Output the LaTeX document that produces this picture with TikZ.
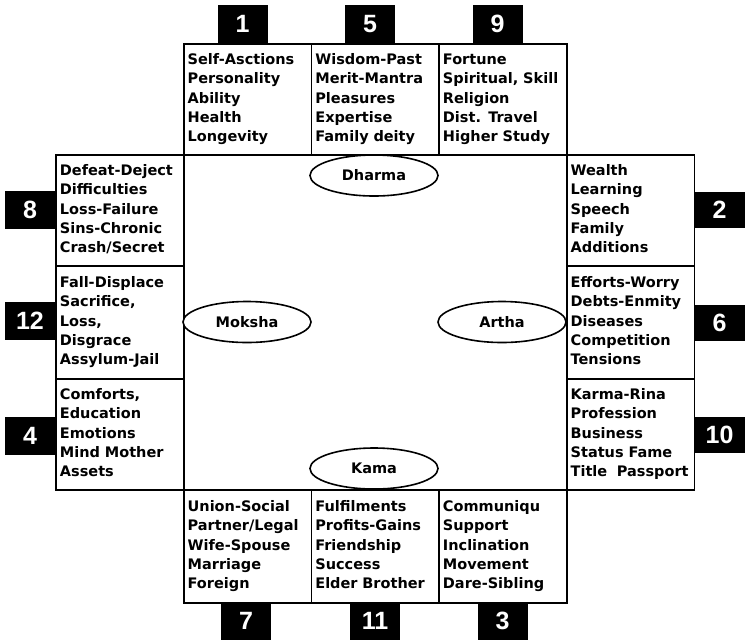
\documentclass[tikz,border=0pt]{standalone}
\usepackage{fontspec}
\setmainfont{DejaVu Sans}
\newfontfamily\digitfont{Liberation Sans}
\usetikzlibrary{shapes.geometric}
\begin{document}
\begin{tikzpicture}[x=1pt,y=-1pt,
  house/.style={draw, line width=1.6pt, anchor=north west, minimum width=127.7pt,
    minimum height=#1, inner xsep=3.2pt, inner ysep=0pt, text width=120pt, align=left,
    font=\bfseries\fontsize{14.5}{19.3}\selectfont,
    execute at begin node=\strut, execute at end node=\strut},
  num/.style={fill=black, text=white, inner sep=0pt, minimum width=50pt, minimum height=38pt,
    font=\digitfont\bfseries\fontsize{25}{25}\selectfont},
  goal/.style={ellipse, draw, line width=1.6pt, fill=white, minimum width=128pt, minimum height=41pt,
    inner sep=0pt, font=\bfseries\fontsize{14.5}{17}\selectfont}]
\useasboundingbox (0,0) rectangle (746,641);
% top row
\node[house=111pt] (h1) at (183,43) {Self-Asctions\\Personality\\Ability\\Health\\Longevity};
\node[house=111pt] (h5) at (310.7,43) {Wisdom-Past\\Merit-Mantra\\Pleasures\\Expertise\\Family deity};
\node[house=111pt] (h9) at (438.3,43) {Fortune\\Spiritual, Skill\\Religion\\Dist. Travel\\Higher Study};
% left column
\node[house=111pt] (h8) at (55.3,154) {Defeat-Deject\\Difficulties\\Loss-Failure\\Sins-Chronic\\Crash/Secret};
\node[house=113pt] (h12) at (55.3,265) {Fall-Displace\\Sacrifice,\\Loss,\\Disgrace\\Assylum-Jail};
\node[house=111pt] (h4) at (55.3,378) {Comforts,\\Education\\Emotions\\Mind Mother\\Assets};
% right column
\node[house=111pt] (h2) at (566,154) {Wealth\\Learning\\Speech\\Family\\Additions};
\node[house=113pt] (h6) at (566,265) {Efforts-Worry\\Debts-Enmity\\Diseases\\Competition\\Tensions};
\node[house=111pt] (h10) at (566,378) {Karma-Rina\\Profession\\Business\\Status Fame\\Title~~Passport};
% bottom row
\node[house=113pt] (h7) at (183,489) {Union-Social\\Partner/Legal\\Wife-Spouse\\Marriage\\Foreign};
\node[house=113pt] (h11) at (310.7,489) {Fulfilments\\Profits-Gains\\Friendship\\Success\\Elder Brother};
\node[house=113pt] (h3) at (438.3,489) {Communiqu\\Support\\Inclination\\Movement\\Dare-Sibling};
% number tags
\node[num] (n1) at (242.5,24) {1};
\node[num] (n5) at (370,24) {5};
\node[num] (n9) at (497.5,24) {9};
\node[num] (n8) at (30,209.5) {8};
\node[num] (n12) at (30,320.5) {12};
\node[num] (n4) at (30,436) {4};
\node[num, minimum height=36pt] (n2) at (719.5,210) {2};
\node[num, minimum height=36pt] (n6) at (719.5,323) {6};
\node[num, minimum height=36pt] (n10) at (719.5,434.5) {10};
\node[num, minimum height=37pt] (n7) at (246,621) {7};
\node[num, minimum height=37pt] (n11) at (375,621) {11};
\node[num, minimum height=37pt] (n3) at (502.5,621) {3};
% goals
\node[goal] (dharma) at (374,175.5) {Dharma};
\node[goal] (moksha) at (247,322) {Moksha};
\node[goal] (artha) at (502,322) {Artha};
\node[goal] (kama) at (374,468.5) {Kama};
\end{tikzpicture}
\end{document}
